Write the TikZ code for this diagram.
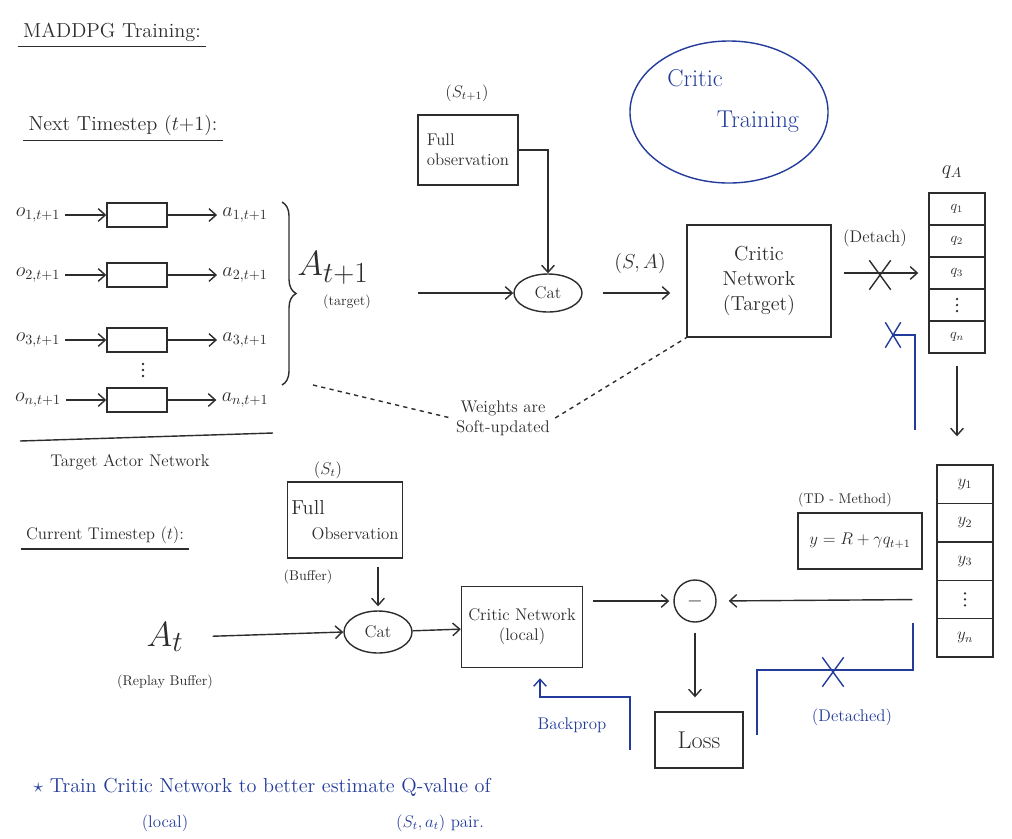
\documentclass[tikz,border=0pt]{standalone}
\usetikzlibrary{arrows.meta,shapes.geometric,shapes.misc,decorations.pathreplacing,positioning}
\definecolor{ink}{RGB}{45,45,45}
\definecolor{penblue}{RGB}{35,60,155}
\tikzset{
  box/.style={draw, align=center, inner sep=3pt},
  cell/.style={draw, minimum width=1.4cm, minimum height=0.8cm, inner sep=0pt},
  catnode/.style={draw, ellipse, inner sep=1pt},
  annot/.style={draw=penblue, text=penblue},
  xmark/.style={cross out, draw, minimum width=0.5cm, minimum height=0.7cm, inner sep=0pt},
  dotcol/.pic={\foreach \d in {-6,0,6} \fill (0,\d) circle (0.9pt);},
}
\begin{document}
\begin{tikzpicture}[>={Straight Barb[length=5pt,width=9pt]}, x=0.025cm, y=-0.025cm, color=ink, line width=1pt]
\useasboundingbox (0,0) rectangle (1012,838);

% headings
\node (title) at (112,32) {\Large MADDPG Training:};
\draw (title.south west) -- (title.south east);
\node (next) at (123,125) {\Large Next Timestep $(t{+}1)$:};
\draw (next.south west) -- (next.south east);

% target actor network
\foreach \i/\y in {1/215,2/275,3/340,n/400}
{
    \node (o\i) at (38,\y) {\Large $o_{\i,t+1}$};
    \node[box, minimum width=1.5cm, minimum height=0.6cm] (act\i) at (137,\y) {};
    \node (a\i) at (245,\y) {\Large $a_{\i,t+1}$};
    \draw[->] (o\i) -- (act\i);
    \draw[->] (act\i) -- (a\i);
}
\pic at (143,370) {dotcol};
\coordinate (brtop) at (282,202);
\coordinate (brbot) at (282,385);
\draw[decorate, decoration={brace, amplitude=10pt}] (brtop) -- (brbot);
\draw (20,441) -- (273,433);
\node (tan) at (130,462) {\large Target Actor Network};

\node (At1) at (333,268) {\Huge $A_{t+1}$};
\node (tgt) at (347,302) {(target)};

% target critic
\node[box, minimum width=2.5cm, minimum height=1.75cm, align=left, font=\large] (obs1) at (468,150) {Full\\observation};
\node (s1) at (467,93) {\large $(S_{t+1})$};
\node[catnode, minimum width=1.7cm, minimum height=0.95cm] (cat1) at (548,293) {\large Cat};
\draw[->, shorten <=1.1cm] (At1.east |- cat1) -- (cat1.west);
\draw[->] (obs1.east) -| (cat1.north);
\node[box, minimum width=3.6cm, minimum height=2.8cm, font=\Large] (critT) at (759,281) {Critic\\Network\\(Target)};
\node (sa) at (640,263) {\Large $(S,A)$};
\draw[->, shorten <=0.5cm, shorten >=0.4cm] (cat1.east) -- (cat1.east -| critT.west);

\node[annot, draw, ellipse, minimum width=4.95cm, minimum height=3.55cm] (ctrain) at (729,112) {};
\node[text=penblue] (ctxt1) at (695,78) {\LARGE Critic};
\node[text=penblue] (ctxt2) at (758,122) {\LARGE Training};

% target q values
\node (qA) at (952,172) {\Large $q_A$};
\foreach \t [count=\k] in {$q_1$,$q_2$,$q_3$,{},$q_n$}
{
    \node[cell] (q\k) at (957,{177+32*\k}) {\t};
}
\pic at (q4) {dotcol};
\draw[->, shorten <=0.3cm, shorten >=0.25cm] (critT.east |- q3) -- (q3.west);
\node[xmark] (xq) at (880,275) {};
\node (detlbl) at (875,238) {\large (Detach)};

\coordinate (bd1) at (915,430);
\node[annot, xmark, minimum width=0.35cm, minimum height=0.6cm] (xq2) at (893,335) {};
\draw[annot] (bd1) |- (xq2.center);

% weights
\node[align=center, font=\large] (soft) at (503,418) {Weights are\\Soft-updated};
\coordinate (dl) at (313,385);
\draw[dashed] (dl) -- (soft.west);
\draw[dashed] (soft.east) -- (critT.south west);

% current timestep
\node (cur) at (105,535) {\large Current Timestep $(t)$:};
\draw (cur.south west) -- (cur.south east);

\node[box, minimum width=2.875cm, minimum height=1.9cm, align=left, font=\Large] (obs2) at (345,520) {Full\\\quad{\large Observation}};
\node (s2) at (328,470) {\large $(S_t)$};
\node (buf) at (308,577) {(Buffer)};
\node[catnode, minimum width=1.7cm, minimum height=1.05cm] (cat2) at (378,632) {\large Cat};
\draw[->, shorten <=0.2cm, shorten >=0.1cm] (cat2 |- obs2.south) -- (cat2.north);
\node (At) at (165,637) {\Huge $A_t$};
\node (rb) at (165,682) {(Replay Buffer)};
\draw[->, shorten <=0.6cm] (At.east) -- (cat2.west);

\node[box, minimum width=3.025cm, minimum height=2.025cm, font=\large] (critL) at (522,627) {Critic Network\\(local)};
\draw[->] (cat2) -- (critL);
\node[draw, circle, minimum size=1.05cm] (minus) at (695,601) {\Large $-$};
\draw[->, shorten <=0.25cm, shorten >=0.1cm] (critL.east |- minus) -- (minus.west);

% targets y
\node (tdlbl) at (845,500) {(TD - Method)};
\node[box, minimum width=3.1cm, minimum height=1.4cm] (td) at (860,541) {\large $y = R + \gamma q_{t+1}$};
\foreach \t [count=\k] in {$y_1$,$y_2$,$y_3$,{},$y_n$}
{
    \node[cell, minimum height=0.96cm] (y\k) at (965,{445.8+38.4*\k}) {\large \t};
}
\pic at (y4) {dotcol};
\draw[->, shorten <=0.3cm, shorten >=0.7cm] (q5.south) -- (q5.south |- y1.north);
\draw[->, shorten <=0.6cm, shorten >=0.3cm] (y4.west) -- (minus.east);

% loss
\node[box, minimum width=2.2cm, minimum height=1.4cm] (loss) at (699,740) {\LARGE Loss};
\draw[->, shorten <=0.25cm, shorten >=0.35cm] (minus.south) -- (minus.south |- loss.north);

\coordinate (bp) at (630,750);
\coordinate (bpturn) at (540,697);
\draw[annot, ->, shorten >=0.25cm] (bp) |- (bpturn) -- (bpturn |- critL.south);
\node[text=penblue] (bplbl) at (572,725) {\large Backprop};

\coordinate (dt1) at (757,735);
\coordinate (dtc) at (913,670);
\coordinate (dt2) at (913,623);
\draw[annot] (dt1) |- (dtc) -- (dt2);
\node[annot, xmark] (xd) at (833,672) {};
\node[text=penblue] (dtlbl) at (852,717) {\large (Detached)};

% note
\node[text=penblue, anchor=west] (note) at (28,787) {\Large $\star$ Train Critic Network to better estimate Q-value of};
\node[text=penblue] (notel) at (165,823) {\large (local)};
\node[text=penblue] (notep) at (440,823) {\large $(S_t, a_t)$ pair.};
\end{tikzpicture}
\end{document}
